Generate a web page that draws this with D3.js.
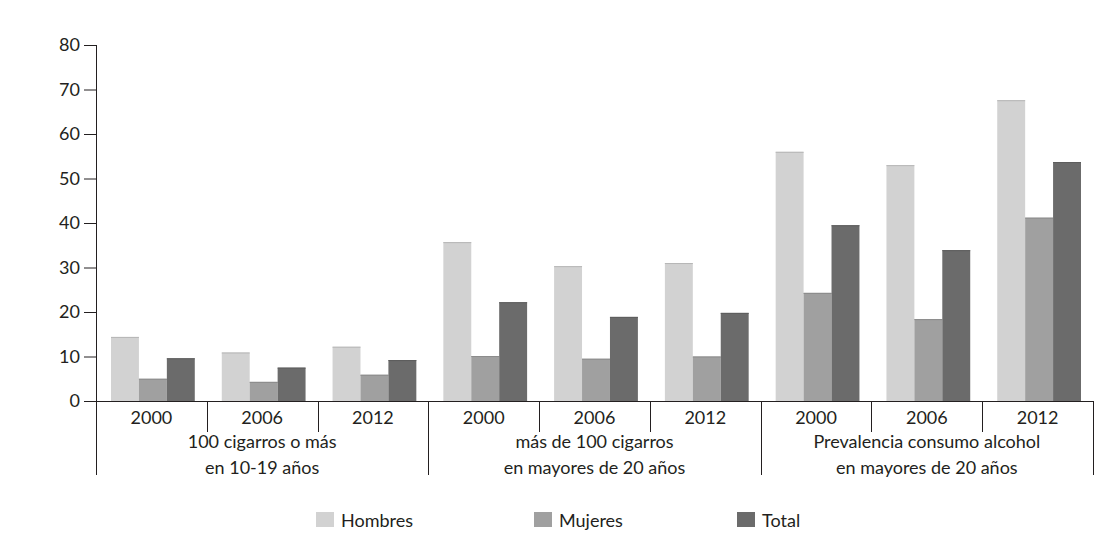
<!DOCTYPE html>
<html><head><meta charset="utf-8">
<script src="https://cdn.jsdelivr.net/npm/d3@7"></script>
<style>body{margin:0;background:#fff;} svg{display:block;} text{font-family:Lato,"Open Sans",sans-serif;fill:#231f20;}</style>
</head><body><svg id="c" width="1120" height="546"></svg>
<script>
const groups = ["100 cigarros o más|en 10-19 años","más de 100 cigarros|en mayores de 20 años","Prevalencia consumo alcohol|en mayores de 20 años"];
const years = ["2000","2006","2012"];
const seriesNames = ["Hombres","Mujeres","Total"];
const hombres = [14.4,10.9,12.2, 35.7,30.3,31.0, 56.0,53.0,67.6];
const mujeres = [5.0,4.3,5.9, 10.1,9.5,10.0, 24.3,18.4,41.2];
const total   = [9.6,7.5,9.2, 22.2,18.9,19.8, 39.5,33.9,53.7];
const yTicks = [0,10,20,30,40,50,60,70,80];
const colors = ["#d2d2d2","#a0a0a0","#6b6b6b"];

(function(){
const svg = d3.select("#c");
const pL=96, pR=1093, pT=45, pB=401;
const fs = "18px";
const slots = [];
groups.forEach((g,gi)=>years.forEach((yr,yi)=>slots.push(gi+"_"+yi)));
const x = d3.scaleBand().domain(slots).range([pL,pR]).paddingInner(0).paddingOuter(0);
const y = d3.scaleLinear().domain([0,80]).range([pB,pT]);
const inner = d3.scaleBand().domain(seriesNames).range([15, x.bandwidth()-12]).padding(0);
const data = [hombres,mujeres,total];

seriesNames.forEach((s,si)=>{
  svg.append("g").selectAll("rect").data(data[si]).join("rect")
    .attr("x",(d,i)=>x(slots[i])+inner(s))
    .attr("y",d=>y(d))
    .attr("width",inner.bandwidth())
    .attr("height",d=>y(0)-y(d))
    .attr("fill",colors[si]);
  svg.append("g").selectAll("line").data(data[si]).join("line")
    .attr("x1",(d,i)=>x(slots[i])+inner(s)).attr("x2",(d,i)=>x(slots[i])+inner(s)+inner.bandwidth())
    .attr("y1",d=>y(d)+0.5).attr("y2",d=>y(d)+0.5)
    .attr("stroke",d3.color(colors[si]).darker(0.4)).attr("stroke-width",1);
});

const yAxis = d3.axisLeft(y).tickValues(yTicks).tickSize(12).tickPadding(4).tickFormat(d3.format("d"));
const yg = svg.append("g").attr("transform",`translate(${pL},0)`).call(yAxis);
yg.select(".domain").remove();
yg.selectAll("line").attr("stroke","#231f20");
yg.selectAll("text").style("font-size",fs).attr("fill","#231f20");
svg.append("line").attr("x1",pL+0.5).attr("x2",pL+0.5).attr("y1",pT).attr("y2",475).attr("stroke","#231f20");

svg.append("line").attr("x1",pL).attr("x2",pR).attr("y1",pB+0.5).attr("y2",pB+0.5).attr("stroke","#231f20");

slots.forEach((s,i)=>{
  const xe = x(s)+x.bandwidth();
  const isGroupEnd = (i%3)===2;
  svg.append("line").attr("x1",Math.round(xe)+0.5).attr("x2",Math.round(xe)+0.5)
    .attr("y1",pB).attr("y2",isGroupEnd?475:432).attr("stroke","#231f20");
  svg.append("text").attr("x",x(s)+x.bandwidth()/2).attr("y",424)
    .attr("text-anchor","middle").style("font-size",fs).text(years[i%3]);
});
groups.forEach((g,gi)=>{
  const cx = (x(gi+"_0")+x(gi+"_2")+x.bandwidth())/2;
  g.split("|").forEach((line,li)=>{
    svg.append("text").attr("x",cx).attr("y",448+li*26).attr("text-anchor","middle")
      .style("font-size",fs).text(line);
  });
});

const legX = [316,534,737];
seriesNames.forEach((s,si)=>{
  svg.append("rect").attr("x",legX[si]).attr("y",512).attr("width",18).attr("height",15).attr("fill",colors[si]);
  svg.append("text").attr("x",legX[si]+25).attr("y",527).style("font-size",fs).text(s);
});
})();
</script></body></html>
